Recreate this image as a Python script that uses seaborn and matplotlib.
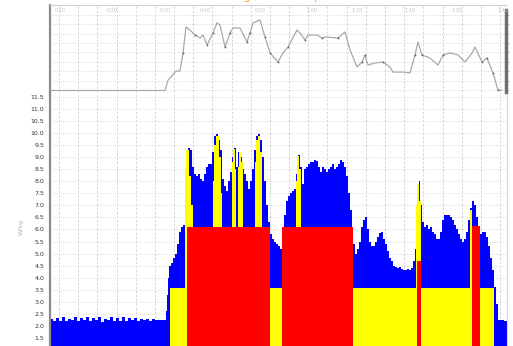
import numpy as np
import matplotlib
matplotlib.use("Agg")
import matplotlib.pyplot as plt
import seaborn as sns

# ---------------- data ----------------
# bottom panel: blue main series (time offset, value)
blue_t = [0, 3, 6, 9, 12, 15, 18, 21, 24, 27, 30, 33, 36, 39, 42, 45, 48, 51, 54, 57,
          60, 63, 66, 69, 72, 75, 78, 81, 84, 87, 90, 93, 96, 99, 102, 105, 108, 111, 114,
          116, 117, 118, 119, 121, 123, 125, 127, 129, 131, 133, 135, 136, 138, 140, 142,
          144, 146, 148, 150, 152, 154, 156, 158, 160, 162, 164, 166, 168, 170, 172, 174,
          176, 178, 180, 182, 184, 186, 188, 190, 192, 194, 196, 198, 200, 202, 204, 206,
          208, 210, 212, 214, 216, 218, 220, 222, 224, 226, 228, 230, 232, 234, 236, 238,
          240, 242, 244, 246, 248, 250, 252, 254, 256, 258, 260, 262, 264, 266, 268, 270,
          272, 274, 276, 278, 280, 282, 284, 286, 288, 290, 292, 294, 296, 298, 300, 302,
          303, 305, 307, 309, 311, 313, 315, 317, 319, 321, 323, 325, 327, 329, 331, 333,
          335, 337, 339, 341, 343, 345, 347, 349, 351, 353, 355, 357, 359, 361, 363, 365,
          367, 369, 370, 372, 374, 376, 378, 380, 382, 384, 386, 388, 390, 392, 394, 396,
          398, 400, 402, 404, 406, 408, 410, 412, 414, 416, 418, 420, 422, 424, 426, 428,
          430, 432, 434, 436, 438, 440, 442, 444, 446, 448, 451, 454, 457]
blue_v = [2.30, 2.20, 2.32, 2.22, 2.35, 2.18, 2.30, 2.24, 2.36, 2.20, 2.33, 2.25, 2.38,
          2.19, 2.31, 2.23, 2.36, 2.17, 2.30, 2.26, 2.37, 2.20, 2.32, 2.22, 2.35, 2.19,
          2.31, 2.25, 2.34, 2.21, 2.30, 2.24, 2.28, 2.22, 2.27, 2.24, 2.26, 2.25, 2.26,
          2.6, 3.3, 4.0, 4.5, 4.6, 4.8, 5.0, 5.4, 5.9, 6.1, 6.2, 8.5, 9.3, 9.4, 9.3, 8.6,
          8.3, 8.2, 8.3, 8.1, 8.0, 8.3, 8.6, 8.7, 8.7, 9.2, 9.9, 9.95, 9.7, 9.3, 8.1, 7.8,
          7.6, 8.0, 8.4, 9.0, 9.4, 8.6, 9.2, 9.0, 8.5, 8.3, 8.0, 7.7, 8.0, 8.5, 9.3, 9.9,
          9.95, 9.7, 9.0, 8.0, 7.0, 6.3, 5.8, 5.6, 5.5, 5.4, 5.3, 5.2, 5.6, 6.6, 7.2, 7.4,
          7.5, 7.6, 7.7, 8.3, 9.1, 8.6, 7.9, 8.5, 8.6, 8.7, 8.8, 8.8, 8.9, 8.85, 8.6, 8.4,
          8.6, 8.5, 8.4, 8.5, 8.6, 8.7, 8.5, 8.6, 8.7, 8.9, 8.8, 8.6, 8.2, 7.5, 6.8, 6.1,
          5.4, 5.0, 5.2, 5.5, 6.1, 6.4, 6.5, 6.0, 5.5, 5.3, 5.3, 5.5, 5.7, 5.85, 5.9, 5.6,
          5.4, 5.1, 4.8, 4.7, 4.5, 4.45, 4.4, 4.45, 4.35, 4.3, 4.3, 4.35, 4.3, 4.4, 4.7, 5.2,
          7.6, 8.0, 7.0, 6.3, 6.1, 6.2, 6.0, 6.1, 5.9, 5.8, 5.6, 5.6, 5.9, 6.4, 6.6, 6.6,
          6.6, 6.5, 6.4, 6.2, 6.0, 5.8, 5.6, 5.5, 5.6, 5.9, 6.4, 6.9, 7.2, 7.0, 6.5, 6.0,
          5.8, 5.9, 5.9, 5.7, 5.3, 4.8, 4.3, 3.6, 2.9, 2.25, 2.25, 2.22, 2.2]

# yellow zone series
yellow_t = [0, 120, 135, 136, 139, 141, 143, 163, 164, 166, 169, 171, 172, 182, 183, 185,
            186, 188, 189, 191, 193, 205, 206, 208, 210, 212, 246, 247, 249, 251, 366,
            367, 369, 371, 420, 422, 444, 457]
yellow_v = [0, 3.57, 8.5, 9.3, 8.2, 7.0, 3.57, 8.0, 9.5, 9.9, 9.0, 7.5, 3.57, 8.8, 9.35,
            8.5, 3.57, 8.6, 9.2, 8.8, 3.57, 8.8, 9.7, 9.9, 9.2, 3.57, 8.0, 9.05, 8.5, 3.57,
            7.0, 7.9, 7.2, 3.57, 6.8, 3.57, 0, 0]

# red zone series
red_t = [0, 137, 220, 232, 303, 367, 371, 422, 430, 457]
red_v = [0, 6.1, 0, 6.1, 0, 4.7, 0, 6.15, 0, 0]

# top panel grey line
line_t = [0, 115, 118, 120, 126, 130, 133, 136, 140, 145, 150, 153, 157, 163, 167, 170,
          175, 180, 183, 190, 197, 200, 203, 210, 215, 220, 228, 233, 238, 247, 250, 255,
          258, 267, 272, 275, 288, 295, 300, 307, 312, 315, 318, 325, 333, 340, 343, 353,
          360, 365, 368, 372, 380, 388, 393, 400, 408, 415, 422, 425, 432, 437, 443, 448,
          452]
line_v = [-0.05, -0.05, 1.06, 1.28, 2.02, 2.02, 3.94, 6.70, 6.38, 5.85, 5.53, 5.85, 4.79,
          6.06, 7.13, 6.91, 4.57, 6.06, 6.60, 6.60, 5.11, 6.06, 7.13, 7.45, 5.64, 3.94,
          2.98, 3.94, 4.57, 6.38, 6.06, 5.32, 5.85, 5.85, 5.53, 5.64, 5.53, 6.17, 4.26,
          2.45, 2.98, 3.72, 2.66, 2.87, 2.98, 2.45, 1.91, 1.91, 1.81, 3.72, 5.11, 3.72,
          3.40, 2.66, 3.72, 3.94, 3.72, 2.98, 3.94, 4.57, 2.98, 3.40, 1.81, 0.0, 0.0]
dot_t = [133, 145, 157, 163, 175, 180, 197, 200, 215, 220, 228, 238, 255, 272, 288, 312,
         315, 333, 365, 372, 393, 432, 437, 443, 448]

y_ticks = [1.5, 2.0, 2.5, 3.0, 3.5, 4.0, 4.5, 5.0, 5.5, 6.0, 6.5, 7.0, 7.5, 8.0, 8.5,
           9.0, 9.5, 10.0, 10.5, 11.0, 11.5]
y_label = "W/kg"
top_label_t = [10, 62, 115, 155, 210, 262, 307, 360, 407, 453]
top_labels = ["0:10", "0:20", "0:30", "0:40", "0:50", "1:00", "1:10", "1:20", "1:30", "1:40"]
title = "Leistung / Herzfrequenz"

# ---------------- style ----------------
sns.set_style("white")
plt.rcParams['font.family'] = ['DejaVu Sans']

W, H = 513, 346
fig = plt.figure(figsize=(W / 100, H / 100), dpi=100)
fig.patch.set_facecolor("white")

grid_x = np.arange(9.1, 457, 19.17)
grid_col = "#d2d2d2"

# bottom axes (extends below the visible canvas)
ax_b = fig.add_axes([50 / W, (H - 374) / H, 457 / W, 282 / H])
ax_b.set_xlim(0, 457)
ax_b.set_ylim(0, 11.707)
ax_b.set_axisbelow(True)
ax_b.set_xticks(grid_x)
ax_b.set_xticklabels([])
ax_b.set_yticks(y_ticks)
ax_b.set_yticklabels([f"{v:.1f}" for v in y_ticks], fontsize=4.5, color="#333333")
ax_b.tick_params(axis="both", length=0)
ax_b.tick_params(axis="y", pad=4)
ax_b.grid(axis="x", color=grid_col, ls=(0, (3, 2)), lw=0.6)
ax_b.grid(axis="y", color=grid_col, ls=(0, (1, 1.5)), lw=0.6)

ax_b.fill_between(blue_t, blue_v, 0, step="post", color="#0000ff", lw=0, zorder=2)
ax_b.fill_between(yellow_t, yellow_v, 0, step="post", color="#ffff00", lw=0, zorder=3)
ax_b.fill_between(red_t, red_v, 0, step="post", color="#ff0000", lw=0, zorder=4)

ax_b.set_ylabel(y_label, fontsize=4.5, color="#b0b0b0")
ax_b.yaxis.set_label_coords(-0.058, 0.52)
for s in ["top", "bottom"]:
    ax_b.spines[s].set_visible(False)
ax_b.spines["left"].set_color("#8a8a8a")
ax_b.spines["left"].set_linewidth(1.6)
ax_b.spines["right"].set_color("#d8d8d8")
ax_b.spines["right"].set_linewidth(0.8)

# top axes
ax_t = fig.add_axes([50 / W, (H - 92) / H, 456 / W, 87 / H])
ax_t.set_xlim(0, 456)
ax_t.set_ylim(-0.21, 9.04)
ax_t.set_axisbelow(True)
ax_t.set_xticks(grid_x)
ax_t.set_xticklabels([])
ax_t.set_yticks(range(0, 9))
ax_t.set_yticklabels([])
ax_t.tick_params(axis="x", length=0)
ax_t.yaxis.set_ticks_position("right")
ax_t.tick_params(axis="y", length=2, color="#aaaaaa", width=0.5)
ax_t.grid(axis="x", color=grid_col, ls=(0, (3, 2)), lw=0.6)
ax_t.grid(axis="y", color=grid_col, ls=(0, (1, 1.5)), lw=0.6)

sns.lineplot(x=line_t, y=line_v, ax=ax_t, color="#a9a9a9", lw=0.9, zorder=3)
dot_idx = [line_t.index(t) for t in dot_t]
ax_t.plot([line_t[i] for i in dot_idx], [line_v[i] for i in dot_idx], "o",
          ms=1.3, color="#606060", mew=0, zorder=4)

for t, lab in zip(top_label_t, top_labels):
    ax_t.text(t, 1 - 6 / 87, lab, transform=ax_t.get_xaxis_transform(), fontsize=3.5,
              color="#c4c4c4", ha="center", va="center")

ax_t.spines["bottom"].set_visible(False)
ax_t.spines["left"].set_color("#8a8a8a")
ax_t.spines["left"].set_linewidth(1.6)
ax_t.spines["top"].set_color("#d0d0d0")
ax_t.spines["top"].set_linewidth(0.8)
ax_t.spines["right"].set_color("#707070")
ax_t.spines["right"].set_linewidth(2.5)
ax_t.spines["right"].set_bounds(-0.21, 8.5)

# title: only its lower edge is visible at the top of the canvas, as in the reference
fig.text(273 / W, 1 + 4 / H, title, fontsize=9, color="#f0b830", ha="center",
         va="center")

fig.savefig("out.png", dpi=100)
